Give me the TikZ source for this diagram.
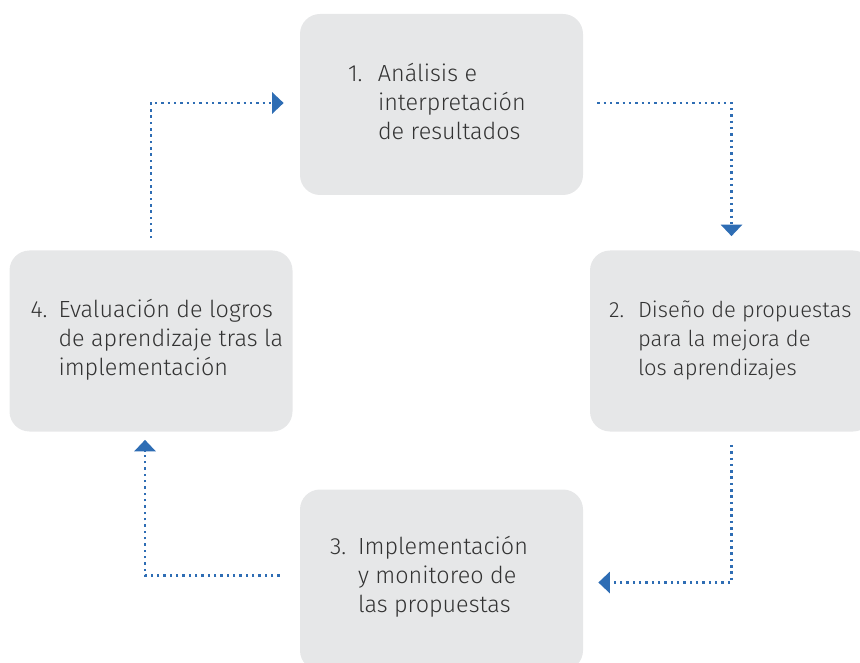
\documentclass[tikz,border=0pt]{standalone}
\usepackage{fontspec}
\setmainfont{Fira Sans Light}
\usepackage{tikz}
\usetikzlibrary{arrows.meta,positioning}
\definecolor{boxgray}{HTML}{E6E7E8}
\definecolor{flowblue}{HTML}{2E6DB4}
\definecolor{textgray}{HTML}{333333}

\begin{document}
\begin{tikzpicture} [
                stage/.style = {fill=boxgray, rounded corners=0.4cm, minimum width=5.66cm, minimum height=3.62cm},
                stagetext/.style = {anchor=west, inner sep=0pt, text=textgray, font=\fontsize{13.3}{16.5}\selectfont},
                flow/.style = {flowblue, line width=1.6pt, dash pattern=on 1.4pt off 2.2pt, -{Triangle[length=0.23cm,width=0.42cm]}}
            ]
            \useasboundingbox (0,0) rectangle (17.2,13.24);
            \node (b1) at (8.83, 11.15) [stage] {};
            \node (b2) at (14.63, 6.42) [stage] {};
            \node (b3) at (8.83, 1.64) [stage] {};
            \node (b4) at (3.02, 6.42) [stage] {};
            \node[stagetext] (t1) at ([xshift=0.96cm] b1.west) {\begin{tabular}{@{}p{0.6cm}@{}l@{}}1. & Análisis e\\ & interpretación\\ & de resultados\end{tabular}};
            \node[stagetext, font=\fontsize{12.5}{16.5}\selectfont] (t2) at ([xshift=0.38cm] b2.west) {\begin{tabular}{@{}p{0.58cm}@{}l@{}}2. & Diseño de propuestas\\ & para la mejora de\\ & los aprendizajes\end{tabular}};
            \node[stagetext] (t3) at ([xshift=0.6cm, yshift=0.05cm] b3.west) {\begin{tabular}{@{}p{0.56cm}@{}l@{}}3. & Implementación\\ & y monitoreo de\\ & las propuestas\end{tabular}};
            \node[stagetext] (t4) at ([xshift=0.42cm] b4.west) {\begin{tabular}{@{}p{0.56cm}@{}l@{}}4. & Evaluación de logros\\ & de aprendizaje tras la\\ & implementación\end{tabular}};
            \draw [flow, shorten <=0.24cm, shorten >=0.32cm] (b4.north) |- ([yshift=0.03cm] b1.west);
            \draw [flow, shorten <=0.28cm, shorten >=0.28cm] ([yshift=0.03cm] b1.east) -| (b2.north);
            \draw [flow, shorten <=0.26cm, shorten >=0.3cm] (b2.south) |- ([yshift=-0.05cm] b3.east);
            \draw [flow, shorten <=0.4cm, shorten >=0.16cm] ([yshift=0.09cm] b3.west) -| ([xshift=-0.12cm] b4.south);
        \end{tikzpicture}
\end{document}
